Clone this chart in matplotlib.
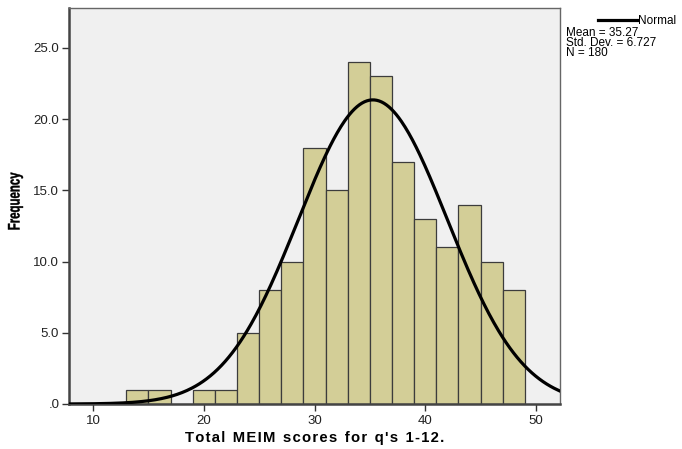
import numpy as np
import matplotlib.pyplot as plt
from matplotlib.textpath import TextPath
from matplotlib.patches import PathPatch
from matplotlib.font_manager import FontProperties
from matplotlib.transforms import Affine2D, IdentityTransform

# Histogram of total MEIM scores, bin width 2
bin_edges = [13, 15, 17, 19, 21, 23, 25, 27, 29, 31, 33, 35, 37, 39, 41, 43, 45, 47, 49]
counts = [1, 1, 0, 1, 1, 5, 8, 10, 18, 15, 24, 23, 17, 13, 11, 14, 10, 8]
mean_score = 35.27
sd_score = 6.727
n_cases = 180
x_ticks = [10, 20, 30, 40, 50]
y_ticks = [0, 5, 10, 15, 20, 25]
y_tick_labels = [".0", "5.0", "10.0", "15.0", "20.0", "25.0"]

plt.rcParams['font.family'] = ['Liberation Sans', 'DejaVu Sans']

W, H = 682, 449
fig = plt.figure(figsize=(W / 100, H / 100), dpi=100)
ax = fig.add_axes([69 / W, 1 - 404 / H, (560 - 69) / W, (404 - 8) / H])
ax.set_facecolor('#f0f0f0')

widths = np.diff(bin_edges)
ax.bar(bin_edges[:-1], counts, width=widths, align='edge',
       color='#d3ce97', edgecolor='#3c3c3c', linewidth=0.9, zorder=2)

# fitted normal curve scaled to counts
xs = np.linspace(7.8, 52.2, 400)
pdf = np.exp(-0.5 * ((xs - mean_score) / sd_score) ** 2) / (sd_score * np.sqrt(2 * np.pi))
ax.plot(xs, pdf * n_cases * 2, color='black', linewidth=2.3, zorder=3)

ax.set_xlim(7.83, 52.17)
ax.set_ylim(0, 27.8)
ax.set_xticks(x_ticks)
ax.set_yticks(y_ticks)
ax.set_yticklabels(y_tick_labels)
ax.tick_params(axis='both', labelsize=9.5, color='#333333', length=5, width=1,
               direction='out', labelcolor='#222222')
ax.tick_params(axis='x', pad=3)
ax.tick_params(axis='y', pad=2)

for side in ['left', 'bottom']:
    ax.spines[side].set_linewidth(1.8)
    ax.spines[side].set_color('#444444')
for side in ['top', 'right']:
    ax.spines[side].set_linewidth(1.0)
    ax.spines[side].set_color('#666666')

ax.set_xlabel("T o t a l  M E I M  s c o r e s  f o r  q ' s  1 - 1 2 .".replace('  ', '\u2002').replace(' ', '\u200a'),
              fontsize=10.7, fontweight='bold', labelpad=3)

# condensed, rotated y label drawn as a path in pixel coordinates
tp = TextPath((0, 0), 'Frequency', size=14,
              prop=FontProperties(family='Liberation Sans', weight='bold'))
bb = tp.get_extents()
sx = 57 / bb.width
sy = 15 / bb.height
tr = (Affine2D().translate(-bb.x0 - bb.width / 2, -bb.y0 - bb.height / 2)
      .scale(sx, sy).rotate_deg(90).translate(15.5, H - 201))
fig.add_artist(PathPatch(tp, transform=tr + IdentityTransform(),
                         facecolor='black', edgecolor='black', lw=0.3))

# legend block
fig.add_artist(plt.Line2D([598 / W, 637 / W], [1 - 20 / H, 1 - 20 / H],
                          color='black', linewidth=2.3))
fig.text(638 / W, 1 - 21 / H, 'Normal', fontsize=8.5, va='center', ha='left')
fig.text(566 / W, 1 - 27 / H, 'Mean = 35.27\nStd. Dev. = 6.727\nN = 180',
         fontsize=8.5, va='top', ha='left', linespacing=0.75)

fig.savefig('out.png', dpi=100)
